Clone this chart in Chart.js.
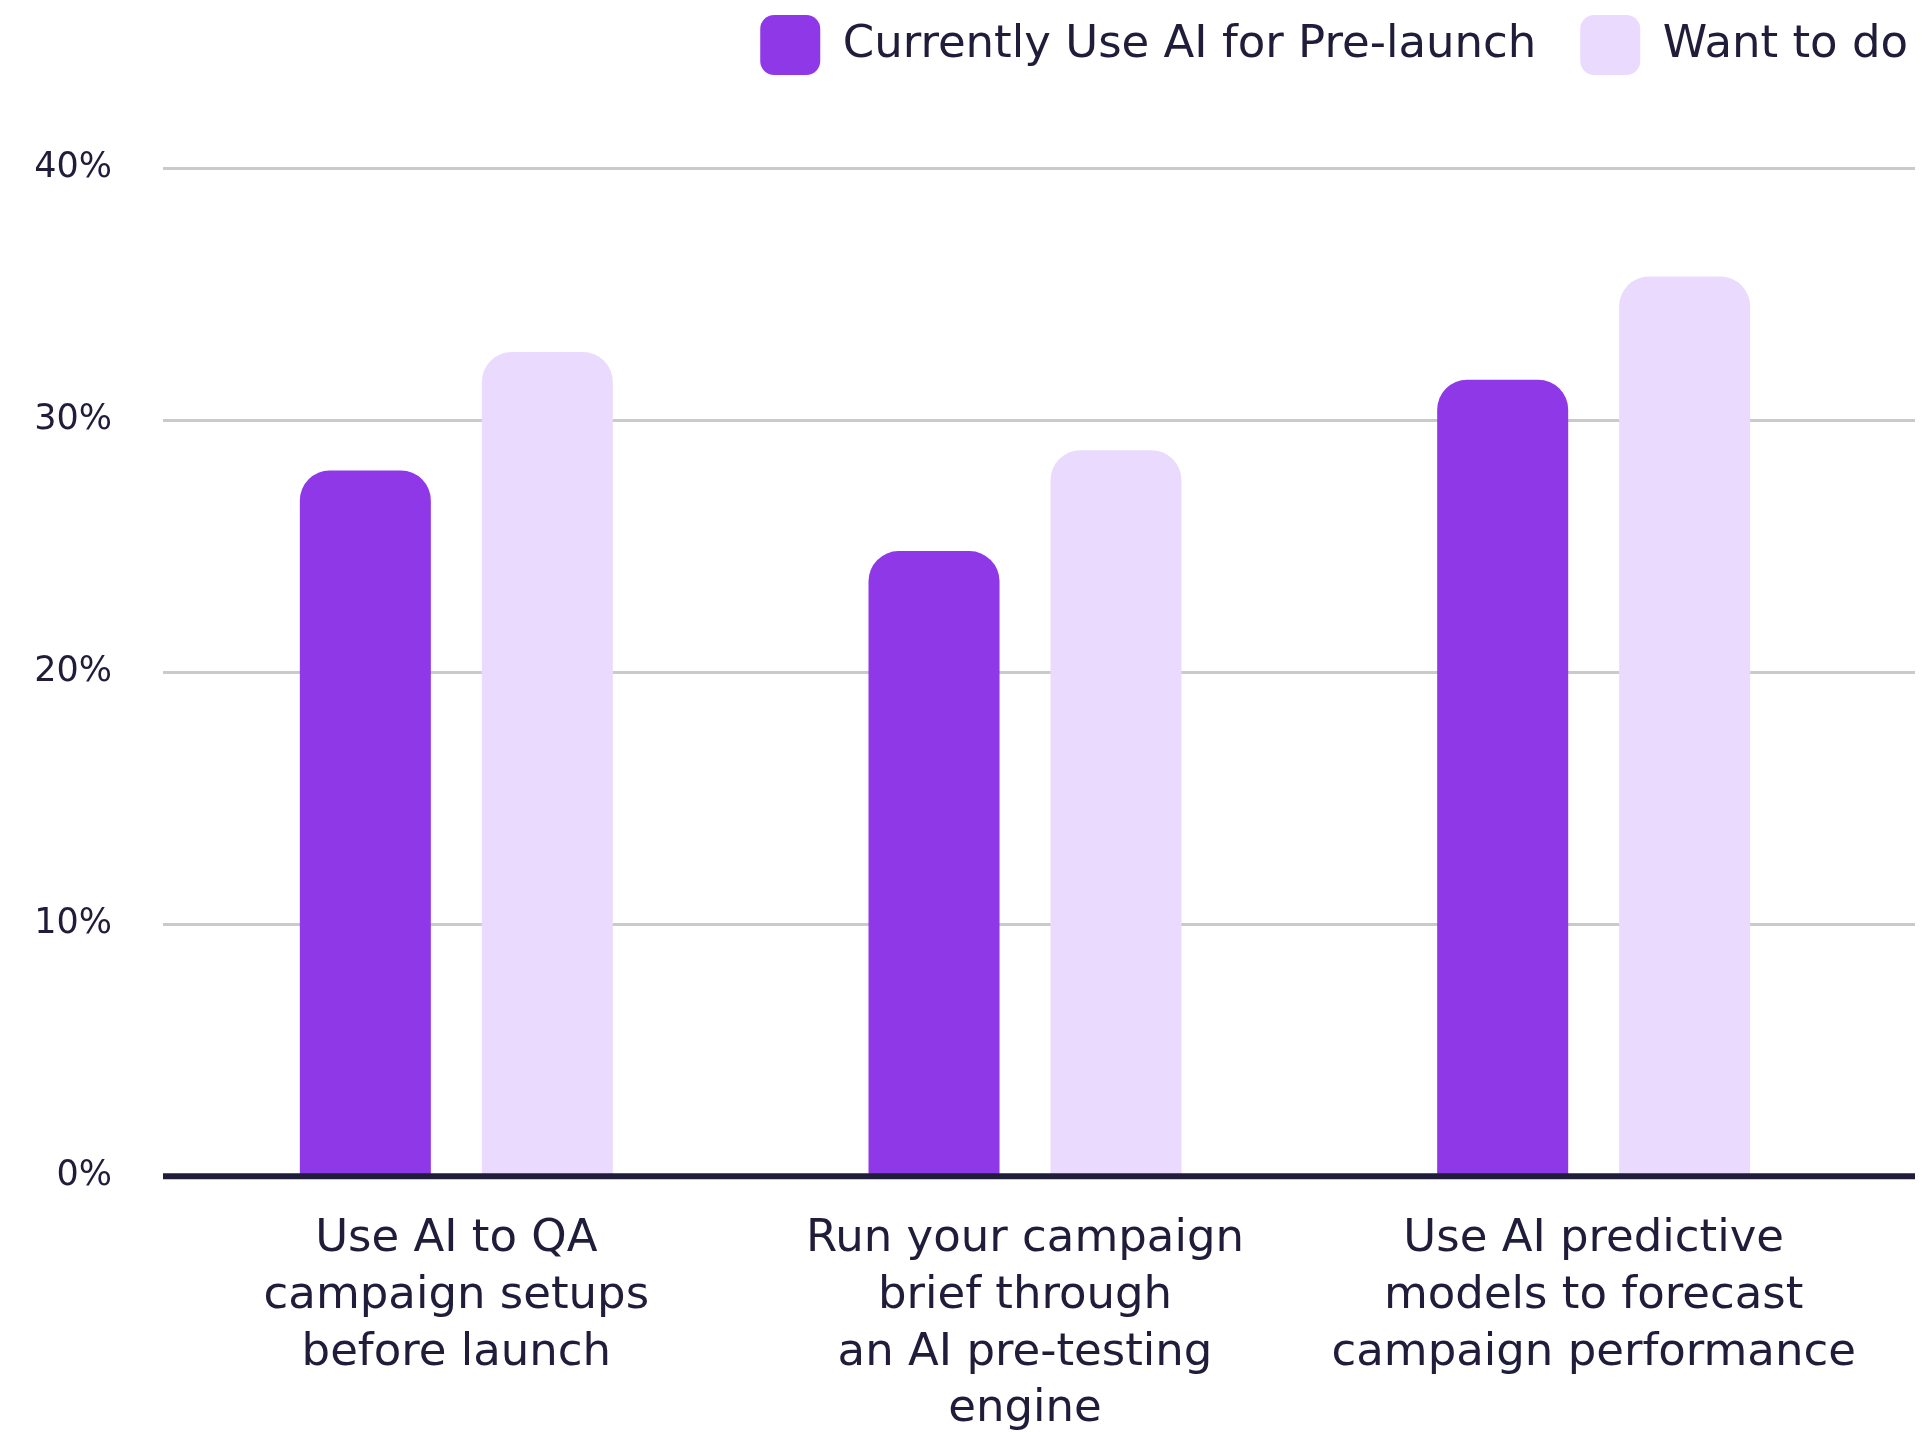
<!DOCTYPE html>
<html>
<head>
<meta charset="utf-8">
<script src="https://cdn.jsdelivr.net/npm/chart.js@4.4.1/dist/chart.umd.min.js"></script>
<style>
  html, body { margin: 0; padding: 0; background: #ffffff; }
  .container { width: 1922px; height: 1432px; position: relative; }
</style>
</head>
<body>
<div class="container">
  <canvas id="preLaunchChart"></canvas>
</div>
<script>
const categories = [
    ['Use AI to QA', 'campaign setups', 'before launch'],
    ['Run your campaign', 'brief through', 'an AI pre-testing', 'engine'],
    ['Use AI predictive', 'models to forecast', 'campaign performance']
];
const currentlyUse = [28, 24.8, 31.6];
const wantToDo = [32.7, 28.8, 35.7];
const seriesNames = ['Currently Use AI for Pre-launch', 'Want to do'];
const yTicks = [0, 10, 20, 30, 40];

const purple = '#8f38e8';
const lavender = '#eadbfe';
const ink = '#201d3a';
const gridGray = '#cacaca';

// grid lines run a bit past the plot on both sides, baseline sits on top of the bars
const guideLines = {
    id: 'guideLines',
    beforeDatasetsDraw(chart) {
        const { ctx, chartArea, scales: { y } } = chart;
        ctx.save();
        ctx.strokeStyle = gridGray;
        ctx.lineWidth = 3;
        yTicks.filter((v) => v !== 0).forEach((v) => {
            const py = Math.round(y.getPixelForValue(v)) + 0.5;
            ctx.beginPath();
            ctx.moveTo(chartArea.left - 9, py);
            ctx.lineTo(chartArea.right + 37, py);
            ctx.stroke();
        });
        ctx.restore();
    },
    afterDatasetsDraw(chart) {
        const { ctx, chartArea, scales: { y } } = chart;
        const py = y.getPixelForValue(0);
        ctx.save();
        ctx.strokeStyle = ink;
        ctx.lineWidth = 6;
        ctx.beginPath();
        ctx.moveTo(chartArea.left - 9, py);
        ctx.lineTo(chartArea.right + 37, py);
        ctx.stroke();
        ctx.restore();
    }
};

// push the plot down below the legend
const legendSpacer = {
    id: 'legendSpacer',
    beforeInit(chart) {
        const originalFit = chart.legend.fit;
        chart.legend.fit = function fit() {
            originalFit.bind(chart.legend)();
            this.height += 83;
        };
    }
};

Chart.defaults.font.family = '"DejaVu Sans", sans-serif';
Chart.defaults.color = ink;

const ctx = document.getElementById('preLaunchChart');
new Chart(ctx, {
    type: 'bar',
    data: {
        labels: categories,
        datasets: [
            {
                label: seriesNames[0],
                data: currentlyUse,
                backgroundColor: purple,
                borderRadius: { topLeft: 30, topRight: 30, bottomLeft: 0, bottomRight: 0 },
                borderSkipped: false,
                categoryPercentage: 0.64,
                barPercentage: 0.72
            },
            {
                label: seriesNames[1],
                data: wantToDo,
                backgroundColor: lavender,
                borderRadius: { topLeft: 30, topRight: 30, bottomLeft: 0, bottomRight: 0 },
                borderSkipped: false,
                categoryPercentage: 0.64,
                barPercentage: 0.72
            }
        ]
    },
    options: {
        responsive: true,
        maintainAspectRatio: false,
        animation: false,
        layout: {
            padding: { top: -29, right: -30, left: 0, bottom: -41 }
        },
        plugins: {
            legend: {
                position: 'top',
                align: 'end',
                labels: {
                    boxWidth: 60,
                    boxHeight: 60,
                    useBorderRadius: true,
                    borderRadius: 14,
                    padding: 44,
                    color: ink,
                    font: { size: 45 }
                }
            },
            tooltip: { enabled: false }
        },
        scales: {
            x: {
                grid: { display: false, drawTicks: false },
                border: { display: false },
                ticks: {
                    color: ink,
                    padding: 35,
                    maxRotation: 0,
                    autoSkip: false,
                    font: { size: 45, lineHeight: 1.26 }
                }
            },
            y: {
                min: 0,
                max: 40,
                afterFit: (scale) => { scale.width = 172; },
                afterBuildTicks: (scale) => { scale.ticks = yTicks.map((v) => ({ value: v })); },
                grid: { display: false, drawTicks: false },
                border: { display: false },
                ticks: {
                    color: ink,
                    padding: 60,
                    font: { size: 35 },
                    callback: (value) => `${value}%`
                }
            },
            yRight: {
                position: 'right',
                display: true,
                afterFit: (scale) => { scale.width = 74; },
                grid: { display: false, drawTicks: false },
                border: { display: false },
                ticks: { display: false }
            }
        }
    },
    plugins: [guideLines, legendSpacer]
});
</script>
</body>
</html>
